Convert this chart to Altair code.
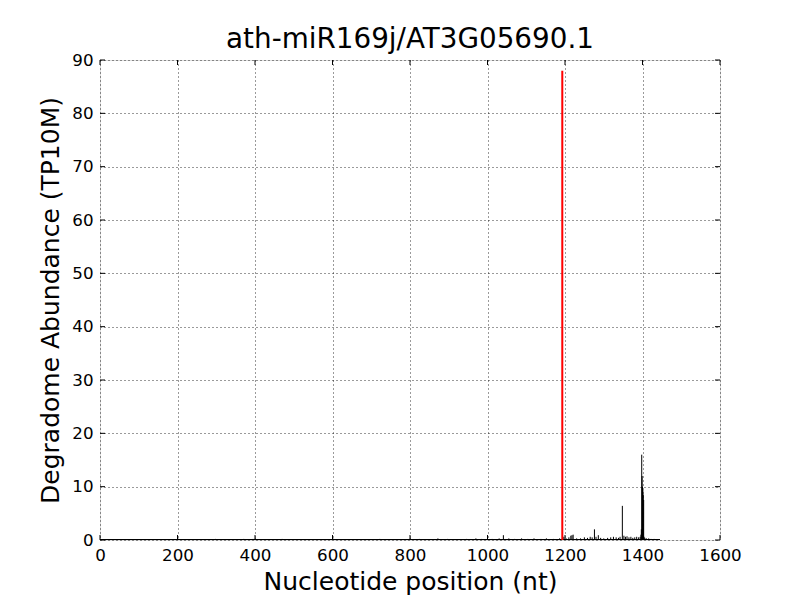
import altair as alt
import pandas as pd

title_text = "ath-miR169j/AT3G05690.1"

# background degradome signal (black)
positions = [12, 35, 58, 80, 104, 130, 155, 178, 201, 226, 250, 275, 298, 322, 347, 371, 395, 401,
             420, 446, 470, 495, 520, 544, 570, 596, 601, 622, 648, 672, 697, 722, 748, 771, 798,
             801, 824, 850, 872, 897, 921, 946, 970, 985, 1000, 1012, 1030, 1041, 1055, 1070, 1088,
             1104, 1120, 1138, 1152, 1170, 1186, 1197, 1203, 1210, 1215, 1218, 1221, 1230, 1240,
             1250, 1258, 1265, 1270, 1276, 1280, 1286, 1292, 1300, 1310, 1318, 1325, 1332, 1338,
             1342, 1348, 1352, 1356, 1360, 1365, 1370, 1375, 1380, 1385, 1390, 1394, 1396, 1397,
             1398, 1399, 1400, 1401, 1402, 1403, 1404, 1406, 1410, 1416, 1422, 1430, 1440]
values = [0.1, 0.1, 0.15, 0.1, 0.1, 0.15, 0.1, 0.1, 0.3, 0.15, 0.1, 0.1, 0.2, 0.1, 0.15, 0.2, 0.2, 0.3,
          0.15, 0.1, 0.2, 0.1, 0.15, 0.1, 0.1, 0.15, 0.3, 0.1, 0.15, 0.1, 0.15, 0.2, 0.1, 0.15, 0.2,
          0.3, 0.2, 0.15, 0.3, 0.2, 0.15, 0.2, 0.3, 0.2, 0.5, 0.2, 0.3, 0.9, 0.3, 0.2, 0.3,
          0.2, 0.3, 0.2, 0.3, 0.2, 0.3, 0.6, 0.3, 0.5, 0.8, 0.9, 1.0, 0.3, 0.3,
          0.5, 0.4, 0.6, 0.5, 2.0, 0.6, 0.9, 0.4, 0.3, 0.4, 0.5, 0.6, 0.5, 0.4,
          0.6, 6.4, 0.8, 0.6, 0.7, 0.5, 0.6, 0.4, 0.5, 0.6, 0.5, 0.6, 1.0, 2.0,
          16.0, 12.0, 10.0, 9.4, 8.5, 7.5, 0.6, 0.4, 0.3, 0.3, 0.2, 0.2, 0.1]

# cleavage site (red)
site_pos = [1193]
site_val = [88.0]

x_ticks = [0, 200, 400, 600, 800, 1000, 1200, 1400, 1600]
y_ticks = [0, 10, 20, 30, 40, 50, 60, 70, 80, 90]

W, H = 620, 480
FONT = "DejaVu Sans"

df = pd.DataFrame({"pos": positions, "val": values})
df_site = pd.DataFrame({"pos": site_pos, "val": site_val})
df_xt = pd.DataFrame({"t": x_ticks})
df_yt = pd.DataFrame({"t": y_ticks})

xscale = alt.Scale(domain=[0, 1600], nice=False, zero=False)
yscale = alt.Scale(domain=[0, 90], nice=False)

x_axis = alt.Axis(values=x_ticks, format="d", grid=True, gridDash=[1, 3], gridColor="black",
                  gridWidth=0.8, ticks=False, domain=False, labelFontSize=16.7, labelFont=FONT,
                  labelColor="black", labelPadding=7, title="Nucleotide position (nt)",
                  titleFontSize=25, titleFont=FONT, titleFontWeight="normal", titleColor="black",
                  titlePadding=6, labelFlush=False)
y_axis = alt.Axis(values=y_ticks, format="d", grid=True, gridDash=[1, 3], gridColor="black",
                  gridWidth=0.8, ticks=False, domain=False, labelFontSize=16.7, labelFont=FONT,
                  labelColor="black", labelPadding=7, title="Degradome Abundance (TP10M)",
                  titleFontSize=25, titleFont=FONT, titleFontWeight="normal", titleColor="black",
                  titlePadding=8, labelFlush=False)

signal = alt.Chart(df).mark_rule(color="black", strokeWidth=1).encode(
    x=alt.X("pos:Q", scale=xscale, axis=x_axis),
    y=alt.Y("val:Q", scale=yscale, axis=y_axis),
    y2=alt.datum(0),
)

baseline = alt.Chart(df).mark_rule(color="black", strokeWidth=1).encode(
    x=alt.value(0),
    x2=alt.value(W * 1445 / 1600),
    y=alt.value(H - 0.5),
)

site = alt.Chart(df_site).mark_rule(color="red", strokeWidth=2).encode(
    x="pos:Q",
    y="val:Q",
    y2=alt.datum(0),
)

xt_bottom = alt.Chart(df_xt).mark_rule(color="black").encode(
    x="t:Q", y=alt.value(H), y2=alt.value(H - 5))
xt_top = alt.Chart(df_xt).mark_rule(color="black").encode(
    x="t:Q", y=alt.value(0), y2=alt.value(5))
yt_left = alt.Chart(df_yt).mark_rule(color="black").encode(
    y="t:Q", x=alt.value(0), x2=alt.value(5))
yt_right = alt.Chart(df_yt).mark_rule(color="black").encode(
    y="t:Q", x=alt.value(W), x2=alt.value(W - 5))

chart = alt.layer(signal, baseline, site, xt_bottom, xt_top, yt_left, yt_right).properties(
    width=W, height=H,
    title=alt.TitleParams(title_text, fontSize=27.8, font=FONT, fontWeight="normal", color="black",
                          anchor="middle", offset=-2),
    autosize=alt.AutoSizeParams(type="none"),
    padding={"left": 92, "top": 52, "right": 72, "bottom": 60},
).configure_view(stroke="black", strokeWidth=1).configure(background="white")

chart.save("out.html", embed_options={"renderer": "svg", "actions": False})
